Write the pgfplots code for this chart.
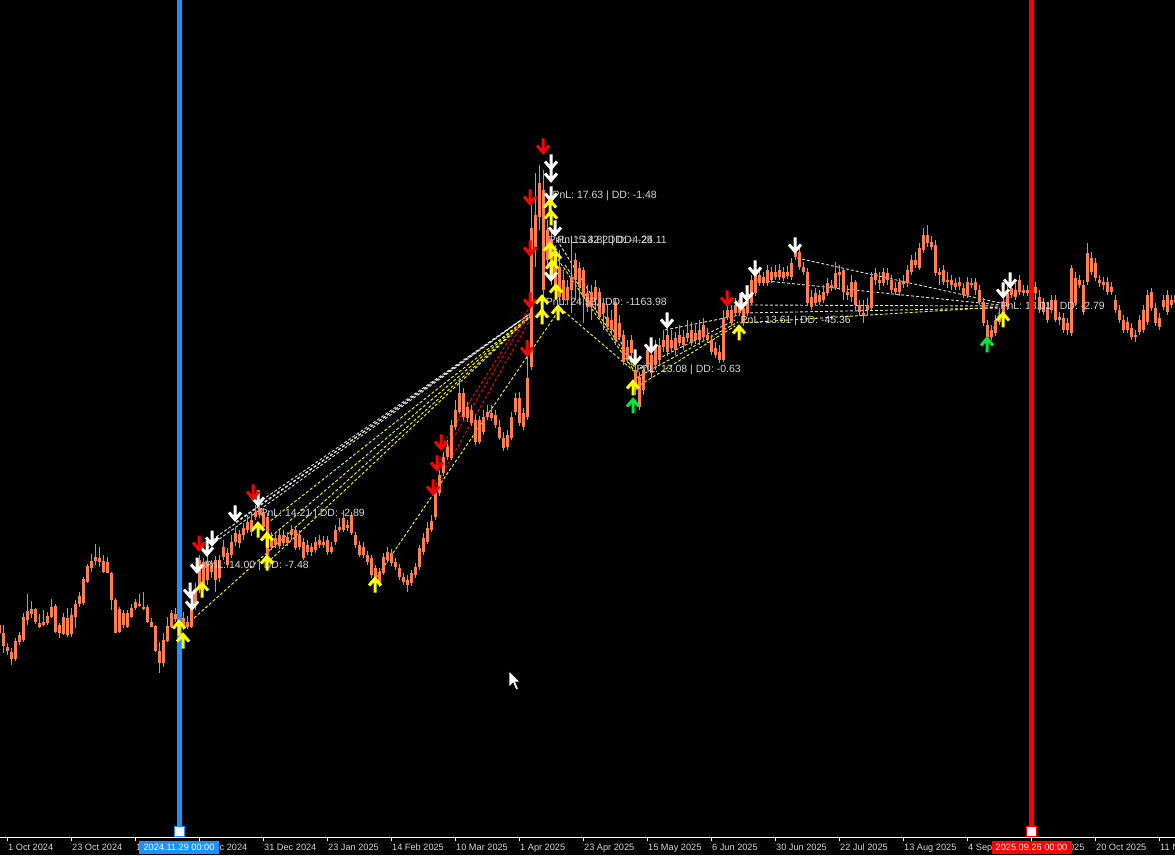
\documentclass[border=0pt]{standalone}
\usepackage{pgfplots}
\pgfplotsset{compat=1.18}
\usepackage{pgfplotstable}
\usepackage{fontspec}
\setmainfont{Liberation Sans}
\definecolor{candle}{RGB}{255,127,80}
\definecolor{mtblue}{RGB}{30,144,255}
\definecolor{lbl}{RGB}{215,215,215}
\definecolor{ylw}{RGB}{255,255,0}
\definecolor{grn}{RGB}{0,230,60}
\definecolor{wdash}{RGB}{225,225,225}
\newcommand\lblfont{\fontsize{10.5}{12}\selectfont}
\newcommand\tickfont{\fontsize{9.2}{11}\selectfont}

\pgfdeclareplotmark{dnarrow}{%
  \pgfsetlinewidth{3pt}%
  \pgfpathmoveto{\pgfqpoint{0pt}{7.5pt}}\pgfpathlineto{\pgfqpoint{0pt}{-5.5pt}}%
  \pgfpathmoveto{\pgfqpoint{-6pt}{0.5pt}}\pgfpathlineto{\pgfqpoint{0pt}{-6.5pt}}\pgfpathlineto{\pgfqpoint{6pt}{0.5pt}}%
  \pgfusepathqstroke}
\pgfdeclareplotmark{uparrow}{%
  \pgfsetlinewidth{3pt}%
  \pgfpathmoveto{\pgfqpoint{0pt}{-7.5pt}}\pgfpathlineto{\pgfqpoint{0pt}{5.5pt}}%
  \pgfpathmoveto{\pgfqpoint{-6pt}{-0.5pt}}\pgfpathlineto{\pgfqpoint{0pt}{6.5pt}}\pgfpathlineto{\pgfqpoint{6pt}{-0.5pt}}%
  \pgfusepathqstroke}

% candles: x, body top, body bottom, wick top, wick bottom (pixel rows from top)
\pgfplotstableread{
x bt bb wt wb
-1 625 633 620 640
3 633 646 625 653
7 647 651 643 655
11 652 659 648 665
15 641 659 638 661
19 635 642 632 645
23 617 640 613 642
27 611 620 594 625
31 609 614 601 618
35 609 622 608 624
39 623 627 614 628
43 622 625 610 626
47 616 623 612 625
51 607 617 599 618
55 606 632 604 633
59 625 633 623 638
63 617 634 613 635
67 618 635 608 637
71 615 634 608 637
75 604 617 600 628
79 596 604 592 607
83 579 603 577 605
87 566 582 564 583
91 561 568 554 572
95 557 561 544 565
99 558 562 547 567
103 561 572 555 573
107 562 573 557 573
111 573 600 572 610
115 600 633 598 633
119 609 632 607 633
123 613 625 610 628
127 613 627 610 628
131 608 617 604 618
135 602 608 599 610
139 604 606 594 607
143 607 608 592 610
147 607 622 605 623
151 622 627 618 627
155 626 651 625 652
159 651 663 642 673
163 640 663 633 667
167 626 641 617 642
171 613 627 610 628
175 614 619 608 622
179 615 625 610 628
183 618 627 612 630
187 622 627 616 629
191 608 627 602 628
195 590 603 583 610
199 560 590 555 593
203 562 587 558 590
207 562 580 556 585
211 565 572 560 578
215 560 580 556 592
219 560 578 555 582
223 547 557 540 560
227 553 565 548 568
231 542 555 535 558
235 533 542 528 546
239 534 543 530 548
243 528 535 523 540
247 522 530 515 533
251 520 532 512 536
255 512 517 505 520
259 508 515 503 518
263 513 527 508 530
267 517 555 513 558
271 540 547 532 550
275 538 545 534 548
279 535 546 530 549
283 535 543 530 546
287 537 543 532 546
291 530 535 525 540
295 530 548 526 550
299 535 547 530 550
303 542 558 538 560
307 545 552 540 555
311 547 552 543 556
315 542 550 537 553
319 540 545 535 548
323 542 545 536 548
327 540 552 536 555
331 547 552 542 554
335 530 542 525 545
339 527 530 518 532
343 518 530 510 532
347 525 528 520 531
351 515 533 512 535
355 535 545 532 548
359 545 555 541 557
363 547 555 542 558
367 555 562 551 565
371 558 575 555 578
375 568 582 565 585
379 572 583 568 587
383 557 573 553 575
387 552 560 547 563
391 553 563 549 566
395 562 567 558 570
399 568 577 564 580
403 577 582 573 585
407 580 585 575 592
411 573 583 570 586
415 567 575 563 578
419 548 567 545 570
423 538 552 533 555
427 528 542 522 544
431 521 530 515 532
435 493 517 490 520
439 475 493 470 496
443 457 473 452 476
447 447 457 440 460
451 425 458 420 460
455 410 427 400 430
459 393 412 378 414
463 393 417 388 420
467 407 418 402 422
471 410 423 405 426
475 420 442 415 445
479 420 442 416 444
483 417 432 410 435
487 412 417 405 420
491 413 418 405 421
495 415 425 410 428
499 427 438 420 440
503 438 448 432 451
507 435 447 430 450
511 417 438 412 440
515 398 412 393 415
519 398 423 392 426
523 413 427 408 430
527 378 417 340 420
531 228 367 205 370
535 215 247 173 267
539 183 217 165 230
543 190 290 170 300
547 230 260 220 265
551 240 270 230 285
555 255 290 245 300
559 267 297 250 300
563 280 300 270 305
567 287 300 280 305
571 277 290 240 313
575 260 280 253 300
579 268 287 262 305
583 270 297 267 323
587 293 307 285 312
591 292 307 285 320
595 287 300 280 310
599 292 317 288 320
603 303 313 298 330
607 317 327 305 330
611 320 330 310 335
615 302 340 298 345
619 323 337 315 340
623 335 362 330 365
627 347 360 340 363
631 340 353 335 365
635 370 390 360 395
639 377 407 372 410
643 370 390 365 395
647 350 367 345 370
651 355 373 348 378
655 345 365 340 370
659 345 360 338 365
663 340 347 330 352
667 335 352 328 356
671 340 348 330 352
675 338 350 332 355
679 335 343 325 346
683 337 345 330 350
687 333 338 320 342
691 330 343 322 346
695 333 340 325 344
699 330 340 320 345
703 325 337 318 340
707 335 340 328 343
711 340 352 335 355
715 348 355 342 358
719 352 360 345 363
723 318 360 310 362
727 310 317 300 320
731 310 323 305 326
735 305 313 298 316
739 300 313 293 316
743 308 323 302 326
747 293 313 285 316
751 280 303 275 305
755 273 293 268 296
759 275 283 270 286
763 277 283 272 286
767 270 283 265 286
771 272 280 267 283
775 272 277 265 280
779 270 277 264 280
783 272 278 267 281
787 272 276 266 279
791 263 277 258 280
795 247 257 238 260
799 252 267 248 270
803 267 272 262 275
807 272 303 268 306
811 297 307 290 310
815 293 303 288 306
819 295 302 290 305
823 292 300 285 303
827 283 293 278 296
831 285 288 280 291
835 273 288 262 290
839 272 275 265 290
843 270 292 268 300
847 292 295 285 300
851 282 297 275 302
855 282 305 280 310
859 305 312 300 316
863 313 316 300 323
867 305 310 298 315
871 277 308 272 310
875 273 280 268 285
879 280 283 272 290
883 272 283 268 286
887 273 280 268 285
891 280 290 275 293
895 288 292 282 295
899 282 292 278 296
903 281 284 275 288
907 270 283 265 287
911 260 272 255 275
915 260 265 252 268
919 248 268 243 270
923 235 250 228 253
927 235 243 225 247
931 242 247 236 250
935 245 273 240 276
939 272 275 268 285
943 270 282 265 285
947 280 282 272 288
951 280 285 275 290
955 283 287 278 290
959 282 286 277 290
963 288 295 283 298
967 282 295 277 298
971 283 285 278 288
975 282 290 278 295
979 290 302 285 305
983 302 323 298 326
987 325 337 320 340
991 330 337 325 340
995 320 333 315 336
999 315 322 308 325
1003 302 317 295 320
1007 293 307 285 310
1011 288 295 283 298
1015 290 297 283 300
1019 280 292 275 295
1023 290 293 285 296
1027 290 293 285 296
1031 288 292 282 295
1035 287 293 282 300
1039 297 310 290 313
1043 302 312 298 315
1047 307 320 302 323
1051 300 310 295 313
1055 300 320 295 322
1059 317 320 312 325
1063 318 330 313 333
1067 323 330 318 335
1071 268 333 265 336
1075 278 303 272 306
1079 280 285 275 288
1083 285 312 280 315
1087 253 282 243 285
1091 258 272 252 275
1095 263 278 258 281
1099 280 283 275 287
1103 282 285 277 290
1107 282 292 277 295
1111 287 292 282 295
1115 300 310 295 313
1119 310 320 305 323
1123 320 330 315 333
1127 322 330 317 333
1131 328 337 323 340
1135 335 337 330 342
1139 320 332 315 335
1143 310 330 305 333
1147 295 322 290 325
1151 292 308 288 311
1155 308 323 303 326
1159 318 327 313 330
1163 300 307 295 310
1167 295 312 290 315
1171 300 305 295 308
1175 295 303 290 306
}\candles

\pgfplotstableread{
x y
190 590
192 602
197 565
207 548
212 538
235 513
258 498
551 162
551 174
551 194
555 228
551 273
635 357
651 345
667 320
741 302
747 293
755 268
795 245
1003 290
1010 280
}\whitedown

\pgfplotstableread{
x y
199 543
253 492
543 146
530 197
530 248
530 300
527 348
441 442
437 463
433 487
727 298
}\reddown

\pgfplotstableread{
x y
179 628
183 641
202 590
258 530
267 540
267 563
375 585
550 207
551 218
550 250
555 258
552 268
556 292
542 303
558 313
542 317
633 388
739 333
1003 320
}\yellowup

\pgfplotstableread{
x y
633 406
987 345
}\greenup

\begin{document}
\begin{tikzpicture}
\useasboundingbox (0,0) rectangle (1175pt,855pt);
\fill[black] (0,0) rectangle (1175pt,855pt);
\clip (0,0) rectangle (1175pt,855pt);
\begin{axis}[
  at={(0pt,855pt)}, anchor=north west,
  width=1175pt, height=837pt, scale only axis,
  xmin=0, xmax=1175, ymin=-837, ymax=0,
  axis x line*=bottom, axis y line=none,
  x axis line style={draw=white, line width=1pt, -},
  xtick={7,71,135,199,263,327,391,455,519,583,647,711,775,839,903,967,1031,1095,1159},
  xticklabels={1 Oct 2024,23 Oct 2024,14 Nov 2024,6 Dec 2024,31 Dec 2024,23 Jan 2025,14 Feb 2025,10 Mar 2025,1 Apr 2025,23 Apr 2025,15 May 2025,6 Jun 2025,30 Jun 2025,22 Jul 2025,13 Aug 2025,4 Sep 2025,26 Sep 2025,20 Oct 2025,11 Nov 2025},
  xtick align=outside, major tick length=4pt,
  xtick style={draw=white, line width=1pt},
  xticklabel style={anchor=north west, inner sep=0pt, xshift=1pt, yshift=-3pt, text=lbl, font=\tickfont},
  clip=true,
]
% dashed trade lines
\pgfplotsset{wl/.style={draw=wdash, line width=0.9pt, dash pattern=on 3pt off 2pt},
             yl/.style={draw=ylw, line width=0.9pt, dash pattern=on 3pt off 2pt},
             rl/.style={draw=red, line width=0.9pt, dash pattern=on 3pt off 2pt}}
\addplot[wl] coordinates {(207,-548) (531,-313)};
\addplot[wl] coordinates {(212,-540) (531,-313)};
\addplot[wl] coordinates {(236,-522) (531,-313)};
\addplot[wl] coordinates {(258,-503) (531,-313)};
\addplot[yl] coordinates {(259,-530) (531,-315)};
\addplot[yl] coordinates {(267,-540) (531,-315)};
\addplot[yl] coordinates {(267,-563) (531,-316)};
\addplot[yl] coordinates {(183,-628) (531,-316)};
\addplot[yl] coordinates {(376,-578) (557,-313)};
\addplot[rl] coordinates {(433,-490) (531,-318)};
\addplot[rl] coordinates {(437,-465) (531,-310)};
\addplot[rl] coordinates {(441,-447) (531,-305)};
\addplot[wl] coordinates {(557,-240) (635,-365)};
\addplot[yl] coordinates {(555,-255) (635,-372)};
\addplot[yl] coordinates {(565,-265) (635,-368)};
\addplot[yl] coordinates {(560,-308) (635,-372)};
\addplot[wl] coordinates {(640,-368) (735,-320)};
\addplot[wl] coordinates {(665,-330) (740,-315)};
\addplot[yl] coordinates {(636,-378) (738,-322)};
\addplot[yl] coordinates {(640,-385) (735,-326)};
\addplot[wl] coordinates {(797,-258) (1000,-303)};
\addplot[wl] coordinates {(757,-280) (1000,-305)};
\addplot[wl] coordinates {(750,-305) (1000,-306)};
\addplot[wl] coordinates {(745,-313) (1000,-308)};
\addplot[yl] coordinates {(740,-323) (1000,-307)};
\addplot[draw=grn, line width=0.9pt, dash pattern=on 3pt off 2pt] coordinates {(990,-338) (1000,-310)};
\addplot[draw=magenta, line width=0.9pt, dash pattern=on 3pt off 2pt] coordinates {(1000,-303) (1020,-292)};
% wicks
\addplot[draw=none, mark=none, forget plot, error bars/.cd, y dir=both, y explicit, error mark=none,
  error bar style={draw=candle, line width=1pt, solid}]
  table[x=x, y expr={-(\thisrow{wt}+\thisrow{wb})/2}, y error expr={(\thisrow{wb}-\thisrow{wt})/2}] {\candles};
% bodies
\addplot[draw=none, mark=none, forget plot, error bars/.cd, y dir=both, y explicit, error mark=none,
  error bar style={draw=candle, line width=3pt, solid}]
  table[x=x, y expr={-(\thisrow{bt}+\thisrow{bb})/2}, y error expr={(\thisrow{bb}-\thisrow{bt})/2}] {\candles};
% labels
\node[anchor=east, text=lbl, font=\lblfont, inner sep=0pt] at (axis cs:657,-196) {PnL: 17.63 | DD: -1.48};
\node[anchor=east, text=lbl, font=\lblfont, inner sep=0pt] at (axis cs:653,-241) {PnL: 15.32 | DD: -4.25};
\node[anchor=east, text=lbl, font=\lblfont, inner sep=0pt] at (axis cs:667,-241) {PnL: 14.82 | DD: -24.11};
\node[anchor=east, text=lbl, font=\lblfont, inner sep=0pt] at (axis cs:667,-303) {PnL: 24.53 | DD: -1163.98};
\node[anchor=east, text=lbl, font=\lblfont, inner sep=0pt] at (axis cs:741,-370) {PnL: 13.08 | DD: -0.63};
\node[anchor=east, text=lbl, font=\lblfont, inner sep=0pt] at (axis cs:851,-321) {PnL: 13.61 | DD: -45.36};
\node[anchor=east, text=lbl, font=\lblfont, inner sep=0pt] at (axis cs:365,-514) {PnL: 14.21 | DD: -2.89};
\node[anchor=east, text=lbl, font=\lblfont, inner sep=0pt] at (axis cs:309,-566) {PnL: 14.00 | DD: -7.48};
\node[anchor=east, text=lbl, font=\lblfont, inner sep=0pt] at (axis cs:1105,-307) {PnL: 13.01 | DD: -2.79};
% arrows
\addplot[only marks, mark=dnarrow, mark options={draw=white}] table[x=x, y expr={-\thisrow{y}}] {\whitedown};
\addplot[only marks, mark=dnarrow, mark options={draw=red}] table[x=x, y expr={-\thisrow{y}}] {\reddown};
\addplot[only marks, mark=uparrow, mark options={draw=ylw}] table[x=x, y expr={-\thisrow{y}}] {\yellowup};
\addplot[only marks, mark=uparrow, mark options={draw=grn}] table[x=x, y expr={-\thisrow{y}}] {\greenup};
% vertical range lines
\addplot[draw=mtblue, line width=4.5pt] coordinates {(179.5,0) (179.5,-826)};
\addplot[draw=red, line width=4.5pt] coordinates {(1031.5,0) (1031.5,-826)};
% mouse cursor
\filldraw[fill=white, draw=black, line width=0.6pt] (axis cs:509,-671) -- (axis cs:509,-687) -- (axis cs:513,-683) -- (axis cs:516,-690) -- (axis cs:518.5,-689) -- (axis cs:515.5,-682) -- (axis cs:520,-682) -- cycle;
\coordinate (bq) at (axis cs:179.5,-831.5);
\coordinate (rq) at (axis cs:1031.5,-831.5);
\coordinate (bl) at (axis cs:179,-847.5);
\coordinate (rl) at (axis cs:1031.5,-847.5);
\end{axis}
\node[fill=mtblue, text=white, font=\tickfont, minimum width=80pt, minimum height=12.5pt, inner sep=0pt] at (bl) {2024.11.29 00:00};
\node[fill=red, text=white, font=\tickfont, minimum width=80pt, minimum height=12.5pt, inner sep=0pt] at (rl) {2025.09.26 00:00};
\node[draw=mtblue, fill=white, line width=1.2pt, minimum size=10pt, inner sep=0pt] at (bq) {};
\node[draw=red, fill=white, line width=1.2pt, minimum size=10pt, inner sep=0pt] at (rq) {};
\end{tikzpicture}
\end{document}
